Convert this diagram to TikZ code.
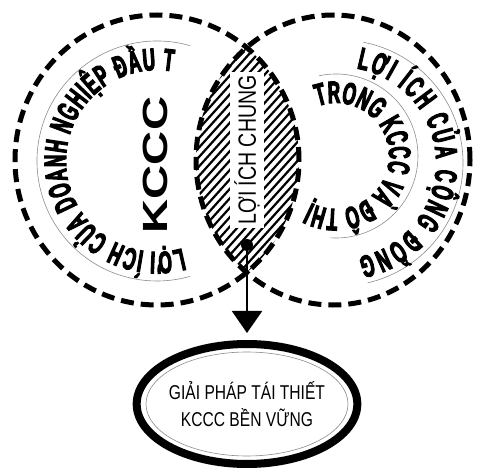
\documentclass[tikz,border=0pt]{standalone}
\usepackage{fontspec}
\usepackage{tikz}
\usetikzlibrary{arrows.meta, positioning, shapes.geometric, decorations.text}

\newfontfamily\ringfont[FakeStretch=0.55, FakeBold=3.5]{Liberation Sans Bold}
\newfontfamily\widefont[FakeStretch=1.35]{Liberation Sans}
\newfontfamily\narrowfont[FakeStretch=0.78]{Liberation Sans}

\begin{document}
\begin{tikzpicture}[
    x=1pt, y=1pt,
    every node/.style={inner sep=0pt, align=center},
    bigring/.style={line width=5pt, dash pattern=on 13pt off 7pt},
    guide/.style={black!45, line width=0.6pt},
    hatchline/.style={line width=2.2pt},
    ringtext/.style={decorate, decoration={text along path, text align={fit to path}}},
    dotnode/.style={circle, fill=black, minimum size=12pt},
    solution/.style={ellipse, draw, line width=8pt, minimum width=219pt, minimum height=120pt},
    flow/.style={-{Triangle[length=22pt, width=30pt]}, line width=2pt, shorten >=7pt},
]
\useasboundingbox (0,0) rectangle (477,472);

% Centres
\coordinate (lc) at (157,312);
\coordinate (rc) at (333,312);
\coordinate (lt) at (157,311);
\coordinate (rto) at (340,309);
\coordinate (rti) at (336,316);

% Common area: hatching
\begin{scope}
    \clip (lc) ellipse [x radius=142pt, y radius=145pt];
    \clip (rc) ellipse [x radius=137pt, y radius=145pt];
    \foreach \i in {0,...,60}
        \draw[hatchline] (-50+8.5*\i,180) -- ++(234,260);
\end{scope}
\node[fill=white, inner sep=4pt, rotate=90, font=\narrowfont\fontsize{25pt}{25pt}\selectfont] (common) at (247,322) {LỢI ÍCH CHUNG};

% Circles
\draw[bigring] (lc) ellipse [x radius=142pt, y radius=145pt];
\draw[bigring] (rc) ellipse [x radius=137pt, y radius=145pt];

% Left ring
\draw[guide] (lt) ++(74:120pt) arc[start angle=74, end angle=286, radius=120pt];
\path[ringtext, decoration={text={|\ringfont\fontsize{31pt}{31pt}\selectfont|LỢI ÍCH CỦA DOANH NGHIỆP ĐẦU T}}]
    (lt) ++(-74:91pt) arc[start angle=-74, end angle=-280, radius=91pt];
\node[rotate=90, font=\widefont\bfseries\fontsize{35pt}{35pt}\selectfont] (kccc) at (155,307) {KCCC};

% Right rings
\draw[guide] (rto) ++(79:123pt) arc[start angle=79, end angle=-77, radius=123pt];
\path[ringtext, decoration={text={|\ringfont\fontsize{31pt}{31pt}\selectfont|LỢI ÍCH CỦA CỘNG ĐỒNG}}]
    (rto) ++(80:96pt) arc[start angle=80, end angle=-79, radius=96pt];
\draw[guide] (rti) ++(102:82pt) arc[start angle=102, end angle=-94, radius=82pt];
\path[ringtext, decoration={text={|\ringfont\fontsize{31pt}{31pt}\selectfont|TRONG KCCC VÀ ĐÔ THỊ}}]
    (rti) ++(110:53pt) arc[start angle=110, end angle=-118, radius=53pt];

% Outcome
\node[dotnode] (dot) at (247,227) {};
\node[solution, font=\narrowfont\fontsize{20pt}{27pt}\selectfont] (sol) at (247,68) {GIẢI PHÁP TÁI THIẾT\\KCCC BỀN VỮNG};
\draw[guide] (sol.center) ellipse [x radius=101pt, y radius=52pt];
\draw[flow] (dot) -- (sol);
\end{tikzpicture}
\end{document}
